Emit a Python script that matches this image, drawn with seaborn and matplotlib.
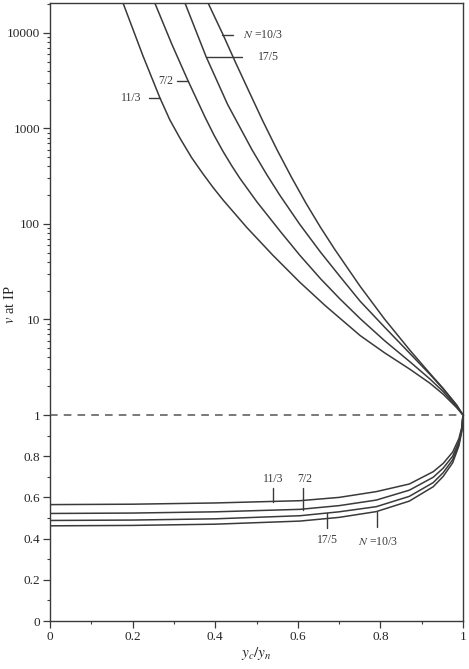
import pandas as pd
import seaborn as sns
import matplotlib.pyplot as plt
from matplotlib.ticker import FixedLocator, LogLocator, NullFormatter

sns.set_style('ticks')
plt.rcParams['font.family'] = ['Liberation Serif', 'DejaVu Serif']
plt.rcParams['mathtext.fontset'] = 'stix'

# N values (labels) of the four curves
n_labels = ['11/3', '7/2', '17/5', '10/3']

# upper branch (v > 1)
up_x_113 = [0.177, 0.225, 0.266, 0.29, 0.315, 0.343, 0.37, 0.395, 0.419, 0.477, 0.54,
            0.605, 0.666, 0.751, 0.81, 0.872, 0.92, 0.952, 0.985, 1.0]
up_v_113 = [20400, 5750, 2090, 1230, 785, 493, 336, 240, 178, 91.2, 46.8,
            24.5, 14.0, 6.78, 4.48, 3.0, 2.15, 1.65, 1.19, 1.0]
up_x_72 = [0.254, 0.295, 0.334, 0.375, 0.397, 0.419, 0.44, 0.46, 0.501, 0.557, 0.605,
           0.655, 0.702, 0.751, 0.81, 0.872, 0.92, 0.952, 0.985, 1.0]
up_v_72 = [20400, 7590, 3160, 1320, 851, 573, 406, 299, 170, 84.1, 46.9,
           26.7, 16.4, 10.2, 6.0, 3.59, 2.38, 1.76, 1.21, 1.0]
up_x_175 = [0.327, 0.378, 0.43, 0.489, 0.525, 0.557, 0.605, 0.655, 0.702, 0.751,
            0.81, 0.872, 0.92, 0.952, 0.985, 1.0]
up_v_175 = [20400, 5620, 1780, 598, 327, 198, 98.6, 50.6, 28.2, 15.5,
            8.32, 4.38, 2.66, 1.87, 1.25, 1.0]
up_x_103 = [0.383, 0.419, 0.45, 0.48, 0.515, 0.55, 0.585, 0.62, 0.655, 0.69,
            0.751, 0.81, 0.872, 0.92, 0.952, 0.985, 1.0]
up_v_103 = [20400, 9550, 4810, 2530, 1200, 593, 306, 164, 92, 53.7,
            22.2, 10.1, 4.73, 2.72, 1.90, 1.27, 1.0]

# lower branch (v < 1)
lo_x = [0.0, 0.2, 0.4, 0.605, 0.7, 0.79, 0.87, 0.928, 0.952, 0.975, 0.99, 0.997, 1.0]
lo_v_113 = [0.565, 0.567, 0.573, 0.584, 0.600, 0.628, 0.665, 0.725, 0.765, 0.82, 0.885, 0.94, 1.0]
lo_v_72 = [0.522, 0.524, 0.530, 0.542, 0.560, 0.587, 0.635, 0.698, 0.742, 0.80, 0.87, 0.93, 1.0]
lo_v_175 = [0.488, 0.490, 0.496, 0.511, 0.530, 0.555, 0.605, 0.672, 0.72, 0.783, 0.86, 0.925, 1.0]
lo_v_103 = [0.462, 0.464, 0.470, 0.485, 0.503, 0.531, 0.582, 0.652, 0.702, 0.768, 0.85, 0.92, 1.0]

up = pd.concat([
    pd.DataFrame({'x': up_x_113, 'v': up_v_113, 'N': '11/3'}),
    pd.DataFrame({'x': up_x_72, 'v': up_v_72, 'N': '7/2'}),
    pd.DataFrame({'x': up_x_175, 'v': up_v_175, 'N': '17/5'}),
    pd.DataFrame({'x': up_x_103, 'v': up_v_103, 'N': '10/3'}),
])
lo = pd.concat([
    pd.DataFrame({'x': lo_x, 'v': lo_v_113, 'N': '11/3'}),
    pd.DataFrame({'x': lo_x, 'v': lo_v_72, 'N': '7/2'}),
    pd.DataFrame({'x': lo_x, 'v': lo_v_175, 'N': '17/5'}),
    pd.DataFrame({'x': lo_x, 'v': lo_v_103, 'N': '10/3'}),
])

ink = '#3a3a3a'
pal = {n: ink for n in n_labels}

fig = plt.figure(figsize=(4.69, 6.69), dpi=100)
left, width = 50 / 469, 413 / 469
ax_up = fig.add_axes([left, 254 / 669, width, 412 / 669])
ax_lo = fig.add_axes([left, 48 / 669, width, 206 / 669])

sns.lineplot(data=up, x='x', y='v', hue='N', palette=pal, legend=False,
             estimator=None, linewidth=1.1, ax=ax_up)
sns.lineplot(data=lo, x='x', y='v', hue='N', palette=pal, legend=False,
             estimator=None, linewidth=1.1, ax=ax_lo)

# upper axes: log scale
ax_up.set_yscale('log')
ax_up.set_ylim(1, 20500)
ax_up.set_xlim(0, 1)
ax_up.set_xticks([])
ax_up.set_xlabel('')
ax_up.set_ylabel('')
ax_up.yaxis.set_major_locator(FixedLocator([1, 10, 100, 1000, 10000]))
ax_up.set_yticklabels(['1', '10', '100', '1000', '10000'])
ax_up.yaxis.set_minor_locator(LogLocator(base=10, subs=range(2, 10)))
ax_up.yaxis.set_minor_formatter(NullFormatter())
ax_up.spines['bottom'].set_visible(False)

# lower axes: linear
ax_lo.set_ylim(0, 1)
ax_lo.set_xlim(0, 1)
ax_lo.set_yticks([0, 0.2, 0.4, 0.6, 0.8])
ax_lo.set_yticklabels(['0', '0.2', '0.4', '0.6', '0.8'])
ax_lo.set_yticks([0.1, 0.3, 0.5, 0.7, 0.9], minor=True)
ax_lo.set_xticks([0, 0.2, 0.4, 0.6, 0.8, 1])
ax_lo.set_xticklabels(['0', '0.2', '0.4', '0.6', '0.8', '1'])
ax_lo.set_xticks([0.1, 0.3, 0.5, 0.7, 0.9], minor=True)
ax_lo.spines['top'].set_visible(False)
ax_lo.set_ylabel('')
ax_lo.set_xlabel('$y_c/y_n$', fontsize=11, labelpad=2)

for ax in (ax_up, ax_lo):
    for s in ax.spines.values():
        s.set_color(ink)
        s.set_linewidth(1.0)
    ax.tick_params(which='major', direction='out', length=5, width=0.9,
                   color=ink, labelsize=9.5, pad=2)
    ax.tick_params(which='minor', direction='out', length=2.5, width=0.8, color=ink)

# dashed line at v = 1
ax_lo.axhline(1.0, color='#555555', linestyle=(0, (5, 4)), linewidth=1.1, clip_on=False)

fig.text(10 / 469, 0.545, '$v$ at IP', rotation=90, ha='center', va='center', fontsize=10.5)

# curve labels, upper branch
lab = dict(fontsize=8.5, va='center', color=ink)
ax_up.plot([0.416, 0.443], [9550, 9550], color=ink, lw=1)
ax_up.text(0.467, 9550, '$N$ =10/3', ha='left', **lab)
ax_up.plot([0.378, 0.465], [5620, 5620], color=ink, lw=1)
ax_up.text(0.503, 5620, '17/5', ha='left', **lab)
ax_up.plot([0.308, 0.334], [3160, 3160], color=ink, lw=1)
ax_up.text(0.298, 3160, '7/2', ha='right', **lab)
ax_up.plot([0.240, 0.266], [2090, 2090], color=ink, lw=1)
ax_up.text(0.222, 2090, '11/3', ha='right', **lab)

# curve labels, lower branch
ax_lo.plot([0.540, 0.540], [0.577, 0.644], color=ink, lw=1)
ax_lo.text(0.540, 0.689, '11/3', ha='center', **lab)
ax_lo.plot([0.612, 0.612], [0.539, 0.644], color=ink, lw=1)
ax_lo.text(0.618, 0.689, '7/2', ha='center', **lab)
ax_lo.plot([0.670, 0.670], [0.450, 0.523], color=ink, lw=1)
ax_lo.text(0.672, 0.393, '17/5', ha='center', **lab)
ax_lo.plot([0.791, 0.791], [0.455, 0.531], color=ink, lw=1)
ax_lo.text(0.794, 0.385, '$N$ =10/3', ha='center', **lab)

fig.savefig('out.png', dpi=100)
